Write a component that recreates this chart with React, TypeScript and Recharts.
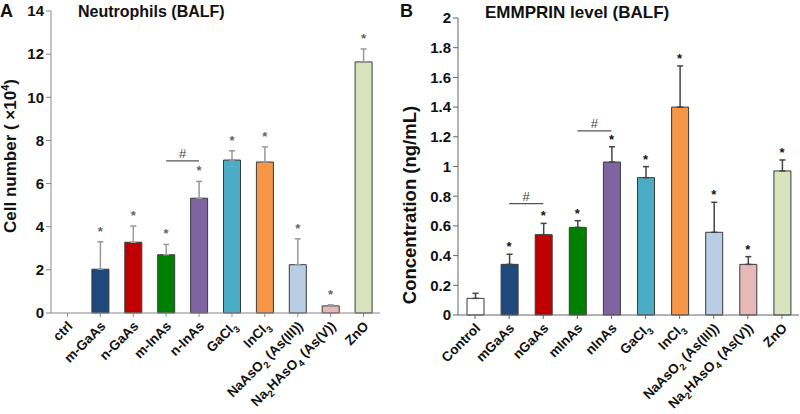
import { BarChart, Bar, XAxis, YAxis, Cell, ErrorBar, ReferenceLine, ReferenceDot } from 'recharts'

// "_3" marks a subscript digit in the group names
const groupsA = ['ctrl', 'm-GaAs', 'n-GaAs', 'm-InAs', 'n-InAs', 'GaCl_3', 'InCl_3',
  'NaAsO_2 (As(III))', 'Na_2HAsO_4 (As(V))', 'ZnO']
const neutrophils    = [0, 2.03, 3.28, 2.7, 5.32, 7.09, 7.0, 2.24, 0.33, 11.64]
const neutrophilsErr = [0, 1.27, 0.75, 0.48, 0.78, 0.43, 0.7, 1.2, 0.05, 0.6]
const neutrophilsSig = [false, true, true, true, true, true, true, true, true, true]
const ticksA = [0, 2, 4, 6, 8, 10, 12, 14]
const bracketsA = [{ from: 'm-InAs', to: 'n-InAs', y: 7.05 }]

const groupsB = ['Control', 'mGaAs', 'nGaAs', 'mInAs', 'nInAs', 'GaCl_3', 'InCl_3',
  'NaAsO_2 (As(III))', 'Na_2HAsO_4 (As(V))', 'ZnO']
const emmprin    = [0.112, 0.341, 0.541, 0.59, 1.03, 0.925, 1.4, 0.557, 0.341, 0.97]
const emmprinErr = [0.034, 0.068, 0.076, 0.045, 0.103, 0.074, 0.277, 0.202, 0.052, 0.074]
const emmprinSig = [false, true, true, true, true, true, true, true, true, true]
const ticksB = [0, 0.2, 0.4, 0.6, 0.8, 1, 1.2, 1.4, 1.6, 1.8, 2]
const bracketsB = [
  { from: 'mGaAs', to: 'nGaAs', y: 0.75 },
  { from: 'mInAs', to: 'nInAs', y: 1.24 },
]

const barColors = ['#ffffff', '#1f497d', '#c00000', '#008000', '#8064a2',
  '#4bacc6', '#f79646', '#b9cde5', '#e6b9b8', '#d7e4bd']

const FONT = '"Liberation Sans", Arial, sans-serif'

function SubText({ s }: { s: string }) {
  const parts = s.split(/_(\d)/)
  return (
    <>
      {parts.map((p, i) => i % 2
        ? <tspan key={i} dy={4} fontSize={9.5}>{p}</tspan>
        : <tspan key={i} dy={i ? -4 : 0}>{p}</tspan>)}
    </>
  )
}

function XTick(props: any) {
  const { x, y, payload } = props
  return (
    <g transform={`translate(${x + 6},${y + 8})`}>
      <text transform='rotate(-45)' textAnchor='end' dy='0.75em'
        fontFamily={FONT} fontWeight='bold' fontSize={13.5} fill='#111'>
        <SubText s={payload.value} />
      </text>
    </g>
  )
}

function Panel(p: {
  letter: string, title: string, titleSize: number, titleY: number,
  yLabel: any, yLabelY: number, yLabelSize: number,
  groups: string[], values: number[], errs: number[], sig: boolean[],
  ticks: number[], brackets: { from: string, to: string, y: number }[],
  margin: any, xHeight: number, axisColor: string, errColor: string, starColor: string,
  starGap: number,
}) {
  const data = p.groups.map((g, i) => ({ name: g, v: p.values[i], err: [0, p.errs[i]] }))
  const top = p.ticks[p.ticks.length - 1]
  return (
    <div style={{ position: 'relative', width: 400, height: 414 }}>
      <BarChart width={400} height={414} data={data} margin={p.margin}>
        <XAxis dataKey='name' interval={0} height={p.xHeight} tick={<XTick />}
          stroke={p.axisColor} tickSize={4} />
        <YAxis width={40} domain={[0, top]} ticks={p.ticks} interval={0}
          stroke={p.axisColor} tickSize={5} tickFormatter={(v: number) => String(v)}
          tick={{ fontFamily: FONT, fontWeight: 'bold', fontSize: 15, fill: '#111' }} />
        <Bar dataKey='v' barSize={17} stroke='#3a3a3a' strokeWidth={1}
          isAnimationActive={false}>
          {data.map((d, i) => <Cell key={d.name} fill={barColors[i]} />)}
          <ErrorBar dataKey='err' width={3} stroke={p.errColor} strokeWidth={1.5}
            direction='y' isAnimationActive={false} />
        </Bar>
        {data.map((d, i) => p.sig[i] ? (
          <ReferenceDot key={'s' + d.name} x={d.name} y={p.values[i] + p.errs[i]} r={0}
            shape={(s: any) => (
              <text x={s.cx} y={s.cy - p.starGap} textAnchor='middle' fontFamily={FONT}
                fontWeight='bold' fontSize={13} fill={p.starColor}>*</text>
            )} />
        ) : null)}
        {p.brackets.map(b => (
          <ReferenceLine key={b.from} segment={[{ x: b.from, y: b.y }, { x: b.to, y: b.y }]}
            stroke='#555' strokeWidth={1.2}
            label={{ value: '#', position: 'top', fill: '#444', fontSize: 13,
              fontFamily: FONT, offset: 3 }} />
        ))}
      </BarChart>
      <svg width={400} height={414} style={{ position: 'absolute', left: 0, top: 0,
        pointerEvents: 'none' }}>
        <text x={0} y={17} fontFamily={FONT} fontWeight='bold' fontSize={18} fill='#111'>
          {p.letter}
        </text>
        <text x={p.margin.left + 40 + 27} y={p.titleY} fontFamily={FONT} fontWeight='bold'
          fontSize={p.titleSize} fill='#111'>{p.title}</text>
        <text transform={`translate(16,${p.yLabelY}) rotate(-90)`} textAnchor='middle'
          fontFamily={FONT} fontWeight='bold' fontSize={p.yLabelSize} fill='#111'>{p.yLabel}</text>
      </svg>
    </div>
  )
}

export default function App() {
  return (
    <div style={{ position: 'absolute', left: 0, top: 0, width: 800, height: 414,
      display: 'flex', background: '#fff' }}>
      <Panel letter='A' title='Neutrophils (BALF)' titleSize={16} titleY={17}
        yLabelY={156} yLabelSize={17}
        yLabel={<>Cell number ( ×10<tspan dy={-7} fontSize={11}>4</tspan><tspan dy={7}>)</tspan></>}
        groups={groupsA} values={neutrophils} errs={neutrophilsErr} sig={neutrophilsSig}
        ticks={ticksA} brackets={bracketsA}
        margin={{ top: 11, right: 20, bottom: 0, left: 11 }} xHeight={101}
        axisColor='#888' errColor='#999' starColor='#666' starGap={6} />
      <Panel letter='B' title='EMMPRIN level (BALF)' titleSize={17} titleY={18}
        yLabelY={205} yLabelSize={18.5}
        yLabel='Concentration (ng/mL)'
        groups={groupsB} values={emmprin} errs={emmprinErr} sig={emmprinSig}
        ticks={ticksB} brackets={bracketsB}
        margin={{ top: 18, right: 1, bottom: 0, left: 18 }} xHeight={99}
        axisColor='#666' errColor='#444' starColor='#111' starGap={3} />
    </div>
  )
}
